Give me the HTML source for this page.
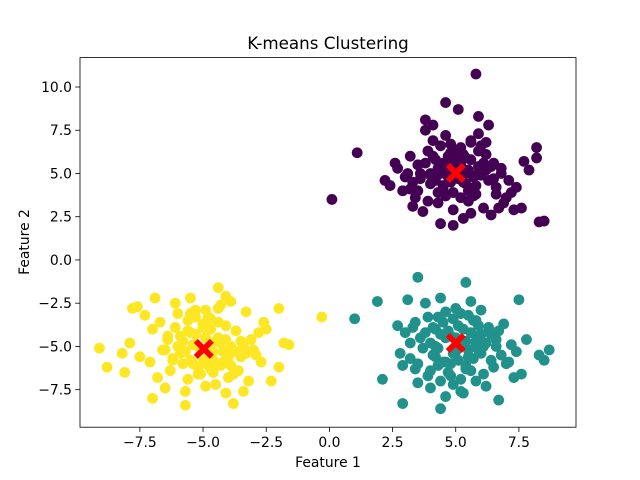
<!DOCTYPE html>
<html><head><meta charset="utf-8"><style>
body{margin:0;background:#fff;}
svg{display:block;font-family:"DejaVu Sans","Liberation Sans",sans-serif;}
</style></head><body>
<svg id="chart" width="640" height="480">
<rect width="640" height="480" fill="#fff"/>
<text x="328" y="49" font-size="16.7" text-anchor="middle">K-means Clustering</text>
<g id="pts"></g>
<g id="cents"></g>
<rect x="80" y="57.6" width="496" height="369.6" fill="none" stroke="#000" stroke-width="0.8"/>
<g id="xt"></g><g id="yt"></g>
<text x="328" y="467" font-size="13.9" text-anchor="middle">Feature 1</text>
<text transform="translate(29,242) rotate(-90)" font-size="13.9" text-anchor="middle">Feature 2</text>
</svg>
<script>
const clusterColors=["#440154","#21918c","#fde725"];
const purpleX=[5.8,0.1,1.1,8.3,8.5,8.2,8.2,4.6,5.1,3.8,4.1,5.9,6.3,3.8,2.7,3.0,3.2,3.5,3.9,4.2,4.4,4.6,4.8,5.0,5.2,5.4,5.6,5.9,6.2,6.5,6.8,7.1,7.4,7.7,2.4,2.9,3.4,4.0,4.5,5.3,5.7,6.0,6.6,7.2,3.3,3.7,4.3,4.9,5.5,6.1,6.4,6.9,7.3,2.2,2.6,3.1,3.6,4.7,5.1,5.8,6.3,7.0,4.4,4.9,5.3,3.9,5.6,6.7,7.6,7.9,3.2,4.6,5.9,6.2,4.1,
4.0,4.3,4.6,4.9,5.2,5.5,5.8,6.1,4.2,4.5,4.8,5.1,5.4,5.7,6.0,3.8,4.1,4.4,4.7,5.0,5.3,5.6,5.9,6.2,4.3,4.6,4.9,5.2,5.5,5.8,3.6,4.0,4.4,4.8,5.6,6.0,6.4,4.5,5.0,5.4,3.5,6.5,6.8,3.3,6.6];
const purpleY=[10.75,3.5,6.2,2.2,2.25,6.5,5.9,9.1,8.7,8.1,7.8,8.3,7.8,7.5,5.3,4.8,6.0,5.5,6.3,5.8,6.6,5.2,6.2,5.7,6.5,5.9,6.9,5.4,6.1,5.6,5.0,4.6,4.2,5.7,4.3,4.0,3.6,4.4,4.1,4.5,3.7,4.9,4.2,3.9,3.1,2.8,3.3,2.9,3.4,3.0,2.6,3.3,2.9,4.6,5.6,5.0,4.7,4.8,5.3,4.3,4.6,3.6,2.1,2.0,2.4,3.4,2.7,3.0,3.0,5.2,4.1,7.2,7.3,6.8,6.9,
5.0,5.3,5.6,5.9,5.5,5.2,4.9,5.6,4.6,4.3,4.5,4.7,4.4,4.8,5.3,5.6,6.0,5.0,6.0,6.3,6.1,5.8,6.3,5.2,3.9,3.7,3.9,3.6,4.0,3.8,5.0,4.9,5.3,6.7,6.8,6.6,5.4,5.6,5.1,5.0,4.0,4.7,5.3,4.5,3.8];
const tealX=[1.0,1.9,2.1,2.9,4.4,3.5,5.4,8.7,8.5,8.3,7.5,6.7,7.6,2.7,3.0,3.3,3.6,3.9,4.2,4.5,4.8,5.1,5.4,5.7,6.0,6.3,6.6,6.9,7.2,7.4,2.8,3.2,3.7,4.1,4.6,5.0,5.5,5.9,6.4,6.8,7.1,3.4,3.9,4.3,4.7,5.2,5.6,6.1,6.5,7.0,2.9,3.5,4.0,4.9,5.3,5.8,6.2,7.3,3.8,4.4,5.0,5.6,6.0,3.1,4.6,5.2,6.7,7.8,4.2,5.8,
4.0,4.3,4.6,4.9,5.2,5.5,5.8,6.1,4.2,4.5,4.8,5.1,5.4,5.7,6.0,3.8,4.1,4.4,4.7,5.0,5.3,5.6,5.9,6.2,4.3,4.6,4.9,5.2,5.5,5.8,3.5,3.2,4.4,6.4,6.6,3.4,4.8,5.4,4.0,5.9];
const tealY=[-3.4,-2.4,-6.9,-8.3,-8.6,-1.0,-1.3,-5.2,-5.8,-5.5,-2.3,-8.1,-6.6,-3.8,-4.2,-3.9,-4.5,-3.3,-4.0,-3.6,-4.4,-3.8,-4.7,-3.5,-4.3,-3.9,-4.6,-3.7,-4.9,-5.3,-5.4,-5.7,-5.1,-5.5,-5.9,-5.3,-5.6,-5.2,-5.8,-5.5,-5.9,-6.3,-6.7,-6.1,-6.5,-6.9,-6.4,-6.6,-6.2,-6.0,-6.1,-7.1,-7.4,-7.2,-7.7,-7.0,-7.3,-6.8,-2.5,-2.2,-2.8,-2.4,-2.9,-2.3,-7.9,-7.6,-4.1,-4.6,-5.0,-4.9,
-4.8,-5.1,-4.5,-5.4,-4.9,-5.2,-4.7,-5.0,-5.6,-5.9,-6.0,-5.8,-6.1,-5.7,-5.4,-4.2,-3.9,-4.3,-4.1,-4.5,-4.0,-4.2,-4.4,-4.8,-3.3,-3.0,-3.4,-3.1,-3.2,-3.5,-6.0,-4.8,-7.0,-4.3,-5.0,-3.6,-6.7,-6.3,-6.4,-3.8];
const yellowX=[-9.1,-8.8,-0.3,-1.8,-1.6,-2.0,-2.3,-3.8,-5.7,-7.0,-8.1,-7.6,-7.8,-6.9,-4.4,-4.1,-2.0,-3.4,-7.3,-7.0,-6.7,-6.4,-6.1,-5.8,-5.5,-5.2,-4.9,-4.6,-4.3,-4.0,-3.7,-3.4,-3.1,-2.8,-2.6,-7.5,-7.1,-6.6,-6.2,-5.9,-5.4,-5.0,-4.7,-4.2,-3.9,-3.5,-3.0,-2.7,-6.8,-6.3,-5.6,-5.1,-4.5,-4.0,-3.6,-3.2,-8.2,-7.9,-6.0,-5.3,-4.8,-4.4,-3.3,-2.5,-6.5,-5.7,-4.9,-4.1,-3.9,-5.5,-6.1,-2.9,
-6.0,-5.7,-5.4,-5.1,-4.8,-4.5,-4.2,-3.9,-5.9,-5.6,-5.3,-5.0,-4.7,-4.4,-4.1,-6.2,-5.8,-5.5,-5.2,-4.9,-4.6,-4.3,-4.0,-3.7,-5.6,-5.3,-5.0,-4.7,-4.4,-4.1,-6.4,-3.5,-3.3,-5.2,-4.6,-6.5,-3.8,-4.9,-5.5,-4.3];
const yellowY=[-5.1,-6.2,-3.3,-4.8,-4.9,-2.8,-7.0,-8.3,-8.4,-8.0,-6.5,-2.7,-2.8,-2.2,-1.6,-2.1,-6.2,-7.6,-3.2,-4.0,-3.6,-4.4,-3.9,-4.7,-4.2,-5.0,-4.5,-5.3,-4.8,-5.5,-4.1,-5.0,-4.6,-4.2,-3.6,-5.6,-5.9,-5.2,-5.8,-5.4,-6.0,-5.7,-6.3,-5.9,-6.1,-5.6,-5.2,-5.9,-6.8,-6.4,-6.9,-6.6,-7.2,-6.8,-6.4,-7.0,-5.4,-4.8,-3.1,-2.9,-3.3,-2.8,-3.0,-4.0,-7.4,-7.6,-7.3,-7.7,-2.4,-2.2,-2.5,-5.5,
-5.0,-5.3,-4.9,-5.5,-5.1,-4.7,-5.3,-5.0,-4.4,-4.1,-4.3,-3.9,-4.0,-4.5,-4.6,-5.7,-6.0,-5.8,-6.2,-6.0,-5.8,-6.1,-5.6,-5.3,-3.5,-3.3,-3.7,-3.4,-3.6,-3.8,-4.6,-4.7,-5.4,-6.6,-6.5,-5.2,-6.6,-2.9,-3.1,-2.6];
const centroidX=[5.0,5.0,-4.97];
const centroidY=[5.03,-4.8,-5.14];
const xTicks=[-7.5,-5.0,-2.5,0.0,2.5,5.0,7.5];
const yTicks=[-7.5,-5.0,-2.5,0.0,2.5,5.0,7.5,10.0];
const X0=-9.87,X1=9.76,Y0=-9.67,Y1=11.7;
function sx(v){return 80+(v-X0)/(X1-X0)*496;}
function sy(v){return 427.2-(v-Y0)/(Y1-Y0)*369.6;}
const NS="http://www.w3.org/2000/svg";
const pts=document.getElementById('pts');
function drawCluster(xs,ys,c){
  for(let i=0;i<xs.length;i++){
    const e=document.createElementNS(NS,'circle');
    e.setAttribute('cx',sx(xs[i]));e.setAttribute('cy',sy(ys[i]));
    e.setAttribute('r',5.4);e.setAttribute('fill',clusterColors[c]);
    
    
    pts.appendChild(e);
  }
}
drawCluster(purpleX,purpleY,0);
drawCluster(tealX,tealY,1);
drawCluster(yellowX,yellowY,2);
const cents=document.getElementById('cents');
for(let i=0;i<centroidX.length;i++){
  const cx=sx(centroidX[i]),cy=sy(centroidY[i]);
  const p=document.createElementNS(NS,'path');
  const s=4,d=10;
  p.setAttribute('d',`M${cx-d} ${cy-d+s}L${cx-d+s} ${cy-d}L${cx} ${cy-s}L${cx+d-s} ${cy-d}L${cx+d} ${cy-d+s}L${cx+s} ${cy}L${cx+d} ${cy+d-s}L${cx+d-s} ${cy+d}L${cx} ${cy+s}L${cx-d+s} ${cy+d}L${cx-d} ${cy+d-s}L${cx-s} ${cy}Z`);
  p.setAttribute('fill','#ff0000');
  
  
  cents.appendChild(p);
}
const xt=document.getElementById('xt');
xTicks.forEach(v=>{
  const x=sx(v);
  const l=document.createElementNS(NS,'line');
  l.setAttribute('x1',x);l.setAttribute('x2',x);l.setAttribute('y1',427.2);l.setAttribute('y2',432);l.setAttribute('stroke','#000');l.setAttribute('stroke-width','0.8');
  
  
  xt.appendChild(l);
  const t=document.createElementNS(NS,'text');
  t.setAttribute('x',x);t.setAttribute('y',447);t.setAttribute('font-size','13.9');t.setAttribute('text-anchor','middle');
  t.textContent=(v<0?'\u2212':'')+Math.abs(v).toFixed(1);
  
  
  xt.appendChild(t);
});
const yt=document.getElementById('yt');
yTicks.forEach(v=>{
  const y=sy(v);
  const l=document.createElementNS(NS,'line');
  l.setAttribute('x1',75.2);l.setAttribute('x2',80);l.setAttribute('y1',y);l.setAttribute('y2',y);l.setAttribute('stroke','#000');l.setAttribute('stroke-width','0.8');
  
  
  yt.appendChild(l);
  const t=document.createElementNS(NS,'text');
  t.setAttribute('x',72);t.setAttribute('y',y+5);t.setAttribute('font-size','13.9');t.setAttribute('text-anchor','end');
  t.textContent=(v<0?'\u2212':'')+Math.abs(v).toFixed(1);
  
  
  yt.appendChild(t);
});
</script>
</body></html>
